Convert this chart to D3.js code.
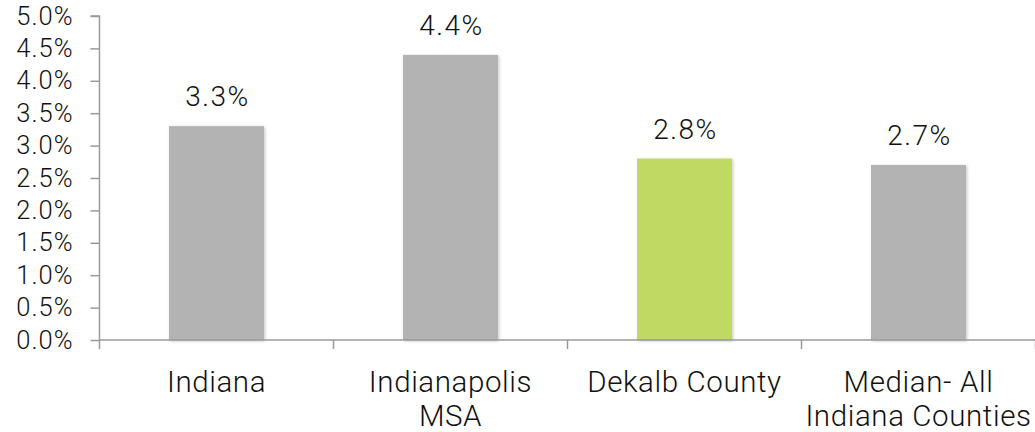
<!DOCTYPE html>
<html>
<head>
<meta charset="utf-8">
<script src="https://cdn.jsdelivr.net/npm/d3@7"></script>
<style>
  body { margin: 0; background: #fff; }
  text { font-family: Roboto, "Liberation Sans", Arial, sans-serif; font-weight: 300; fill: #111; }
</style>
</head>
<body>
<div class="graph"></div>
<script>
const categories = ["Indiana", "Indianapolis|MSA", "Dekalb County", "Median- All|Indiana Counties"];
const values = [3.3, 4.4, 2.8, 2.7];
const barColors = ["#b3b3b3", "#b3b3b3", "#bfd964", "#b3b3b3"];
const yTicks = [0, 0.5, 1, 1.5, 2, 2.5, 3, 3.5, 4, 4.5, 5];

let width = 1035;
let height = 432;

let svg = d3.select(".graph")
    .append("svg")
    .attr("width", width)
    .attr("height", height);

// soft shadow under the bars
let filter = svg.append("defs").append("filter")
    .attr("id", "shadow")
    .attr("x", "-10%").attr("y", "-10%")
    .attr("width", "130%").attr("height", "130%");
filter.append("feDropShadow")
    .attr("dx", 1).attr("dy", 1)
    .attr("stdDeviation", 1.5)
    .attr("flood-color", "#000")
    .attr("flood-opacity", 0.25);

let x = d3.scaleBand()
    .domain(categories)
    .range([99.5, 1035.5])
    .paddingInner(0.594)
    .paddingOuter(0.297);

let y = d3.scaleLinear().domain([0, 5]).range([340, 16]);

let axisColor = "#9a9a9a";

// y axis
let yAxis = svg.append("g")
    .attr("transform", "translate(99.5,0)")
    .call(d3.axisLeft(y).tickValues(yTicks).tickSize(9).tickPadding(17)
        .tickFormat(d => d.toFixed(1) + "%"));
yAxis.selectAll("line, path").attr("stroke", axisColor).attr("stroke-width", 1.5);
yAxis.select(".domain").attr("d", "M-9," + y(5) + "H0V" + y(0));
yAxis.selectAll("text")
    .attr("font-size", 25.5)
    .attr("fill", "#111")
    .style("font-family", "Roboto, Liberation Sans, Arial, sans-serif")
    .style("font-weight", 300)
    .style("letter-spacing", "1px");

// bars
svg.selectAll(".bar")
    .data(values)
    .enter().append("rect")
    .attr("class", "bar")
    .attr("x", (d, i) => x(categories[i]))
    .attr("width", x.bandwidth())
    .attr("y", d => y(d))
    .attr("height", d => y(0) - y(d))
    .attr("fill", (d, i) => barColors[i])
    .attr("filter", "url(#shadow)");

// x axis baseline with boundary ticks
let step = x.step();
let bounds = d3.range(categories.length + 1).map(i => 99.5 + i * step);
svg.append("line")
    .attr("x1", 99.5).attr("x2", width)
    .attr("y1", y(0)).attr("y2", y(0))
    .attr("stroke", axisColor).attr("stroke-width", 1.5);
svg.selectAll(".xtick")
    .data(bounds)
    .enter().append("line")
    .attr("x1", d => d).attr("x2", d => d)
    .attr("y1", y(0)).attr("y2", y(0) + 9)
    .attr("stroke", axisColor).attr("stroke-width", 1.5);

// value labels
svg.selectAll(".val")
    .data(values)
    .enter().append("text")
    .attr("text-anchor", "middle")
    .attr("font-size", 28)
    .style("letter-spacing", "1.5px")
    .attr("x", (d, i) => x(categories[i]) + x.bandwidth() / 2 + 1)
    .attr("y", d => y(d) - 20)
    .text(d => d.toFixed(1) + "%");

// category labels
svg.selectAll(".cat")
    .data(categories)
    .enter().append("text")
    .attr("text-anchor", "middle")
    .attr("font-size", 29.5)
    .style("letter-spacing", "0.6px")
    .each(function(d){
        let lines = d.split("|");
        d3.select(this).selectAll("tspan")
            .data(lines)
            .enter().append("tspan")
            .attr("x", x(d) + x.bandwidth() / 2)
            .attr("y", (t, i) => 392 + i * 34)
            .text(String);
    });
</script>
</body>
</html>
